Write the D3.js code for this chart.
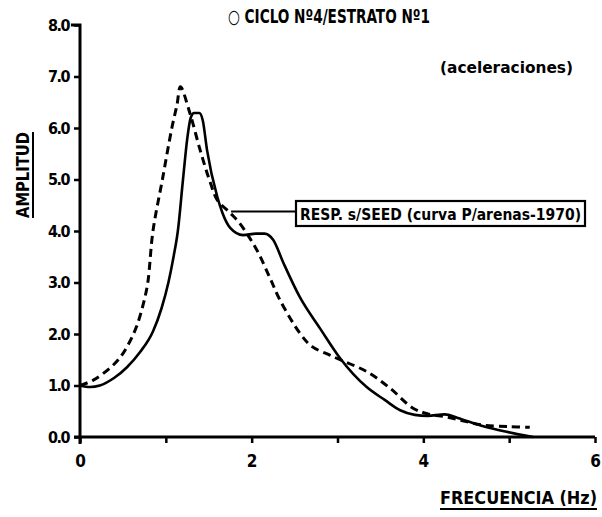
<!DOCTYPE html>
<html><head><meta charset="utf-8">
<script src="https://cdn.jsdelivr.net/npm/d3@7"></script>
<style>
body{margin:0;background:#fff;}
text{font-family:"DejaVu Sans Condensed","DejaVu Sans",sans-serif;fill:#000;}
</style></head>
<body><svg id="c" width="602" height="517"></svg>
<script>
const xTicks = [0,1,2,3,4,5,6];
const xTickLabels = ["0","","2","","4","","6"];
const yTicks = [0,1,2,3,4,5,6,7,8];
const yTickLabels = ["0.0","1.0","2.0","3.0","4.0","5.0","6.0","7.0","8.0"];

// solid curve (frequency Hz, amplitude)
const solidX = [0,0.12,0.23,0.4,0.55,0.7,0.85,0.95,1.03,1.09,1.14,1.2,1.25,1.29,1.33,1.39,1.43,1.48,1.6,1.66,1.75,1.9,2.05,2.15,2.25,2.37,2.56,2.8,3.03,3.34,3.55,3.73,3.9,4.05,4.25,4.4,4.66,4.97,5.28];
const solidY = [1.0,0.97,1.0,1.15,1.36,1.65,2.05,2.5,3.0,3.5,4.0,5.0,5.8,6.2,6.29,6.29,6.15,5.57,4.66,4.35,4.06,3.92,3.95,3.95,3.83,3.38,2.72,2.1,1.53,0.97,0.72,0.52,0.43,0.41,0.44,0.37,0.23,0.1,0.0];

// dashed curve (Seed response)
const dashX = [0,0.15,0.35,0.47,0.57,0.66,0.74,0.79,0.85,0.96,1.07,1.13,1.17,1.28,1.4,1.52,1.6,1.75,1.86,2.06,2.21,2.33,2.56,2.7,2.91,3.03,3.34,3.61,3.88,4.05,4.27,4.5,4.7,5.0,5.24];
const dashY = [1.0,1.1,1.34,1.55,1.82,2.15,2.6,3.0,4.0,5.0,6.0,6.45,6.8,6.29,5.57,4.93,4.6,4.35,4.15,3.63,3.1,2.66,2.02,1.76,1.59,1.5,1.27,0.95,0.56,0.45,0.39,0.3,0.23,0.2,0.19];

const title = "\u25CB CICLO N\u00BA4/ESTRATO N\u00BA1";
const subtitle = "(aceleraciones)";
const annotation = "RESP. s/SEED (curva P/arenas-1970)";
const xLabel = "FRECUENCIA (Hz)";
const yLabel = "AMPLITUD";

const svg = d3.select("#c");
const x = d3.scaleLinear().domain([0,6]).range([80,595]);
const y = d3.scaleLinear().domain([0,8]).range([437,25]);

// axes
const xAxis = d3.axisBottom(x).tickValues(xTicks).tickSize(6).tickFormat((d,i)=>xTickLabels[i]).tickPadding(12);
const gx = svg.append("g").attr("transform","translate(0,437)").call(xAxis);
gx.select(".domain").attr("stroke","#000").attr("stroke-width",3).attr("d","M74,0H595");
gx.selectAll(".tick line").attr("stroke","#000").attr("stroke-width",2.5);
gx.selectAll(".tick text").attr("font-size",17).attr("font-weight","bold").attr("fill","#000");

const yAxis = d3.axisLeft(y).tickValues(yTicks).tickSize(6).tickFormat((d,i)=>yTickLabels[i]).tickPadding(5);
const gy = svg.append("g").attr("transform","translate(80,0)").call(yAxis);
gy.select(".domain").attr("stroke","#000").attr("stroke-width",3).attr("d","M0,444V25H-9");
gy.selectAll(".tick line").attr("stroke","#000").attr("stroke-width",2.5);
gy.selectAll(".tick text").attr("font-size",16).attr("font-weight","bold").attr("fill","#000").attr("letter-spacing","-1.5");

// curves
const solidPts = solidX.map((d,i)=>[x(d),y(solidY[i])]);
const dashPts = dashX.map((d,i)=>[x(d),y(dashY[i])]);
svg.append("path").attr("d",d3.line().curve(d3.curveMonotoneX)(solidPts)).attr("fill","none").attr("stroke","#000").attr("stroke-width",2.6).attr("stroke-linejoin","round");
svg.append("path").attr("d",d3.line().curve(d3.curveCatmullRom)(dashPts)).attr("fill","none").attr("stroke","#000").attr("stroke-width",3).attr("stroke-dasharray","8,5");

// annotation leader + box
svg.append("line").attr("x1",x(1.76)).attr("y1",211.5).attr("x2",296).attr("y2",211.5).attr("stroke","#000").attr("stroke-width",2);
svg.append("rect").attr("x",296).attr("y",201).attr("width",289).attr("height",25).attr("fill","#fff").attr("stroke","#000").attr("stroke-width",2.2);
svg.append("text").attr("x",300).attr("y",220).attr("font-size",16).attr("font-weight","bold").attr("textLength",281).attr("lengthAdjust","spacingAndGlyphs").text(annotation);

// titles
svg.append("text").attr("x",228).attr("y",23).attr("font-size",19).attr("font-weight","bold").attr("textLength",202).attr("lengthAdjust","spacingAndGlyphs").text(title);
svg.append("text").attr("x",440).attr("y",73).attr("font-size",16).attr("font-weight","bold").attr("textLength",133).attr("lengthAdjust","spacingAndGlyphs").text(subtitle);

// x label
svg.append("text").attr("x",440).attr("y",504).attr("font-size",17).attr("font-weight","bold").attr("textLength",157).attr("lengthAdjust","spacingAndGlyphs").text(xLabel);
svg.append("line").attr("x1",440).attr("x2",597).attr("y1",509).attr("y2",509).attr("stroke","#000").attr("stroke-width",2);

// y label
svg.append("text").attr("transform","translate(29,175) rotate(-90)").attr("text-anchor","middle").attr("font-size",17).attr("font-weight","bold").attr("textLength",86).attr("lengthAdjust","spacingAndGlyphs").text(yLabel);
svg.append("line").attr("x1",33).attr("x2",33).attr("y1",132).attr("y2",218).attr("stroke","#000").attr("stroke-width",2);
</script></body></html>
